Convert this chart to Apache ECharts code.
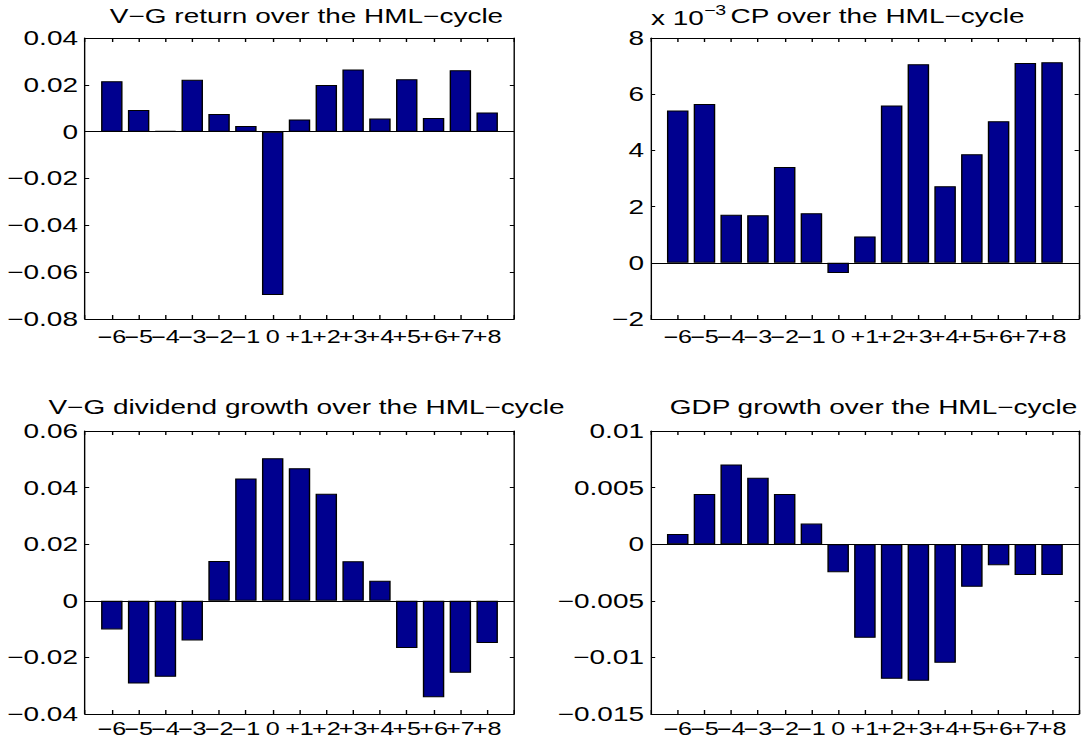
<!DOCTYPE html>
<html>
<head>
<meta charset="utf-8">
<script src="https://cdn.jsdelivr.net/npm/echarts@6/dist/echarts.min.js"></script>
<style>
html, body { margin: 0; padding: 0; background: #fff; overflow: hidden; }
#wrap { width: 1083px; height: 744px; overflow: hidden; }
#chart { width: 774px; height: 744px; transform: scaleX(1.39922); transform-origin: 0 0; }
</style>
</head>
<body>
<div id="wrap"><div id="chart"></div></div>
<script>
// ---- data ----
const categories = ['\u22126','\u22125','\u22124','\u22123','\u22122','\u22121','0','+1','+2','+3','+4','+5','+6','+7','+8'];
const vgReturn   = [0.0215, 0.0093, 0.0003, 0.0222, 0.0075, 0.0024, -0.0698, 0.0052, 0.0199, 0.0265, 0.0056, 0.0224, 0.0058, 0.0262, 0.0082];
const cpValues   = [0.00542, 0.00565, 0.00171, 0.00169, 0.00341, 0.00176, -0.00036, 0.00094, 0.00560, 0.00707, 0.00272, 0.00386, 0.00504, 0.00711, 0.00714];
const vgDividend = [-0.0101, -0.0292, -0.0268, -0.0140, 0.0141, 0.0432, 0.0504, 0.0468, 0.0378, 0.0140, 0.0071, -0.0167, -0.0341, -0.0254, -0.0149];
const gdpGrowth  = [0.00091, 0.00444, 0.00703, 0.00588, 0.00444, 0.00182, -0.00247, -0.00826, -0.01188, -0.01206, -0.01047, -0.00376, -0.00185, -0.00271, -0.00271];
const titles = ['V\u2212G return over the HML\u2212cycle', 'CP over the HML\u2212cycle', 'V\u2212G dividend growth over the HML\u2212cycle', 'GDP growth over the HML\u2212cycle'];
const yMins  = [-0.08, -0.002, -0.04, -0.015];
const yMaxs  = [0.04, 0.008, 0.06, 0.01];
const ySteps = [0.02, 0.002, 0.02, 0.005];
const yLabelScale = [1, 1000, 1, 1];
const exponentLabel = 'x 10';
const exponentSup = '\u22123';

// ---- layout (screen px, converted to chart px because of horizontal stretch) ----
const SX = 1083 / 774;
const boxes = [
  { l: 85,  r: 514,  t: 38,  b: 319, lblMargin: 9 },
  { l: 651, r: 1082, t: 38,  b: 319, lblMargin: 9 },
  { l: 85,  r: 514,  t: 431, b: 714, lblMargin: 6 },
  { l: 651, r: 1082, t: 431, b: 714, lblMargin: 6 }
];
const titleTops = [1, 1, 392, 392];
const titleShift = [0, 4, 0, 0];
const seriesData = [vgReturn, cpValues, vgDividend, gdpGrowth];
const FONT = 'Liberation Sans, Arial, Helvetica, sans-serif';

function fmtY(v, s) {
  let x = Math.round(v * s * 1e6) / 1e6;
  if (x === 0) return '0';
  return (x < 0 ? '\u2212' : '') + String(Math.abs(x));
}

const grids = [], xAxes = [], yAxes = [], series = [], titleOpts = [];
boxes.forEach((b, i) => {
  const left = b.l / SX, width = (b.r - b.l) / SX;
  grids.push({ left: left, top: b.t, width: width, height: b.b - b.t });
  const baseX = {
    type: 'value', gridIndex: i, min: 0, max: categories.length + 1, interval: 1,
    axisLine: { show: true, onZero: false, lineStyle: { color: '#000', width: 1 } },
    axisTick: { show: true, inside: true, length: 4, lineStyle: { color: '#000', width: 1 } },
    splitLine: { show: false }
  };
  xAxes.push(Object.assign({}, baseX, {
    position: 'bottom',
    axisLabel: {
      show: true, margin: b.lblMargin, color: '#000', fontSize: 18, fontFamily: FONT,
      showMinLabel: true, showMaxLabel: true, hideOverlap: false,
      formatter: v => categories[v - 1] || ''
    }
  }));
  xAxes.push(Object.assign({}, baseX, { position: 'top', axisLabel: { show: false } }));
  const baseY = {
    type: 'value', gridIndex: i, min: yMins[i], max: yMaxs[i], interval: ySteps[i],
    axisLine: { show: true, onZero: false, lineStyle: { color: '#000', width: 1 } },
    axisTick: { show: true, inside: true, length: 3, lineStyle: { color: '#000', width: 1 } },
    splitLine: { show: false }
  };
  yAxes.push(Object.assign({}, baseY, {
    position: 'left',
    axisLabel: {
      show: true, margin: 5, color: '#000', fontSize: 20, fontFamily: FONT,
      showMinLabel: true, showMaxLabel: true,
      formatter: v => fmtY(v, yLabelScale[i])
    }
  }));
  yAxes.push(Object.assign({}, baseY, { position: 'right', axisLabel: { show: false } }));
  series.push({
    type: 'bar', xAxisIndex: 2 * i, yAxisIndex: 2 * i,
    barWidth: width / (categories.length + 1) * 0.8,
    data: seriesData[i].map((v, k) => [k + 1, v]),
    itemStyle: { color: '#00008F', borderColor: '#000', borderWidth: 1 },
    markLine: {
      silent: true, symbol: ['none', 'none'], label: { show: false },
      lineStyle: { color: '#000', width: 1, type: 'solid' },
      data: [{ yAxis: 0 }]
    }
  });
  titleOpts.push({
    text: titles[i], left: left + width / 2 + titleShift[i] / SX, top: titleTops[i], textAlign: 'center',
    textStyle: { fontSize: 20, fontWeight: 'normal', color: '#000', fontFamily: FONT }
  });
});
// exponent label for CP panel (one rich text with a superscript)
titleOpts.push({
  text: exponentLabel + '{sup|' + exponentSup + '}', left: 651 / SX, top: 3, padding: 0,
  textStyle: {
    fontSize: 20, fontWeight: 'normal', color: '#000', fontFamily: FONT, lineHeight: 30,
    rich: {
      sup: { fontSize: 14, fontFamily: FONT, color: '#000', lineHeight: 16, verticalAlign: 'top' }
    }
  }
});

const chart = echarts.init(document.getElementById('chart'), null, { renderer: 'svg' });
chart.setOption({
  animation: false,
  backgroundColor: '#fff',
  title: titleOpts,
  grid: grids,
  xAxis: xAxes,
  yAxis: yAxes,
  series: series
});
</script>
</body>
</html>
